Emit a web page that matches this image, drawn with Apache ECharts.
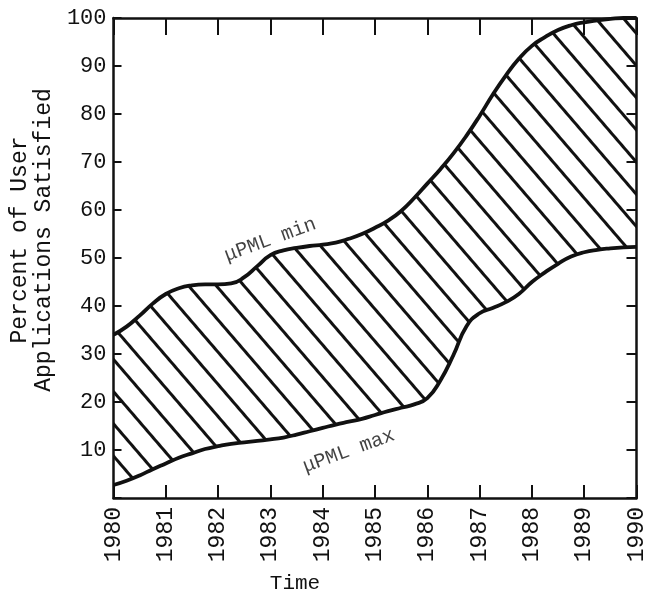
<!DOCTYPE html>
<html>
<head>
<meta charset="utf-8">
<title>Percent of User Applications Satisfied</title>
<script src="https://cdn.jsdelivr.net/npm/echarts@6/dist/echarts.min.js"></script>
<style>
  html, body { margin: 0; padding: 0; background: #fff; }
  #chart { width: 648px; height: 599px; }
</style>
</head>
<body>
<div id="chart"></div>
<script>
// Sample years shared by both curves
const years = [
  1980, 1980.25, 1980.5, 1980.75, 1981, 1981.25, 1981.5, 1981.75,
  1982, 1982.25, 1982.5, 1982.75, 1983, 1983.25, 1983.5, 1983.75,
  1984, 1984.25, 1984.5, 1984.75, 1985, 1985.25, 1985.5, 1985.75,
  1986, 1986.25, 1986.5, 1986.75, 1987, 1987.25, 1987.5, 1987.75,
  1988, 1988.25, 1988.5, 1988.75, 1989, 1989.25, 1989.5, 1989.75, 1990
];

// Upper boundary of the band ("μPML min"), percent
const pmlMin = [
  34.0, 35.7, 38.0, 40.5, 42.5, 43.7, 44.3, 44.5,
  44.5, 44.7, 46.0, 48.3, 50.6, 51.6, 52.1, 52.5,
  52.8, 53.2, 54.0, 55.0, 56.3, 57.8, 59.8, 62.5,
  65.5, 68.5, 71.8, 75.5, 79.6, 84.0, 88.0, 91.5,
  94.2, 96.0, 97.5, 98.5, 99.1, 99.5, 99.8, 100, 100
];

// Lower boundary of the band ("μPML max"), percent
const pmlMax = [
  2.7, 3.6, 4.7, 6.0, 7.2, 8.4, 9.3, 10.2,
  10.8, 11.3, 11.6, 11.9, 12.2, 12.6, 13.2, 13.9,
  14.6, 15.3, 15.9, 16.5, 17.3, 18.1, 18.8, 19.5,
  20.8, 24.5, 29.8, 35.8, 38.5, 39.6, 40.8, 42.5,
  45.0, 47.0, 48.8, 50.3, 51.2, 51.7, 52.0, 52.2, 52.3
];

// Tick labels
const yearLabels = ['1980', '1981', '1982', '1983', '1984', '1985', '1986', '1987', '1988', '1989', '1990'];
const percentLabels = ['', '10', '20', '30', '40', '50', '60', '70', '80', '90', '100'];

const FONT = '"Liberation Mono", "DejaVu Sans Mono", monospace';
const INK = '#111';

const chart = echarts.init(document.getElementById('chart'), null, { renderer: 'canvas' });

function frameAxis(extra) {
  return Object.assign({
    type: 'value',
    z: 5,
    splitLine: { show: false },
    axisLine: { show: true, onZero: false, lineStyle: { color: INK, width: 2.5 } },
  }, extra);
}

const option = {
  animation: false,
  backgroundColor: '#fff',
  grid: { left: 102, right: 11, top: 18, bottom: 94 },
  xAxis: [
    frameAxis({
      position: 'bottom',
      min: 1980, max: 1990, interval: 1,
      axisTick: { show: true, inside: true, length: 13, lineStyle: { color: INK, width: 2 } },
      axisLabel: {
        rotate: 90, margin: 9, fontSize: 23, fontFamily: FONT, color: INK,
        formatter: v => yearLabels[Math.round(v - 1980)]
      },
      name: 'Time',
      nameLocation: 'middle',
      nameGap: 75,
      nameTextStyle: { fontSize: 21, fontFamily: FONT, color: INK, padding: [0, 160, 0, 0] }
    }),
    frameAxis({
      position: 'top',
      min: 1980, max: 1990, interval: 1,
      axisTick: { show: true, inside: true, length: 17, lineStyle: { color: INK, width: 2 } },
      axisLabel: { show: false }
    })
  ],
  yAxis: [
    frameAxis({
      position: 'left',
      min: 0, max: 100, interval: 10,
      axisTick: { show: true, inside: true, length: 8, lineStyle: { color: INK, width: 2 } },
      axisLabel: {
        margin: 7, fontSize: 22, fontFamily: FONT, color: INK,
        formatter: v => percentLabels[Math.round(v / 10)]
      },
      name: 'Percent of User\nApplications Satisfied',
      nameLocation: 'middle',
      nameRotate: 90,
      nameGap: 41,
      nameTextStyle: {
        fontSize: 23, lineHeight: 24, fontFamily: FONT, color: INK,
        align: 'center', padding: [0, 0, 0, 36]
      }
    }),
    frameAxis({
      position: 'right',
      min: 0, max: 100, interval: 10,
      axisTick: { show: true, inside: true, length: 10, lineStyle: { color: INK, width: 2 } },
      axisLabel: { show: false }
    })
  ],
  series: [
    {
      name: 'μPML min',
      type: 'line',
      z: 2,
      smooth: 0.5,
      showSymbol: false,
      silent: true,
      data: years.map((y, i) => [y, pmlMin[i]]),
      lineStyle: { color: INK, width: 3.8 },
      itemStyle: {
        color: INK,
        // diagonal "\" hatching of the band
        decal: {
          symbol: 'rect',
          symbolSize: 1,
          color: INK,
          backgroundColor: 'rgba(0,0,0,0)',
          dashArrayX: [1, 0],
          dashArrayY: [3, 18],
          rotation: 0.86
        }
      },
      areaStyle: { color: '#fff', opacity: 1 }
    },
    {
      name: 'μPML max',
      type: 'line',
      z: 3,
      smooth: 0.5,
      showSymbol: false,
      silent: true,
      data: years.map((y, i) => [y, pmlMax[i]]),
      lineStyle: { color: INK, width: 3.8 },
      itemStyle: { color: INK },
      areaStyle: { color: '#fff', opacity: 1 }
    },
    {
      type: 'scatter',
      z: 6,
      silent: true,
      symbolSize: 1,
      itemStyle: { color: 'rgba(0,0,0,0)' },
      label: {
        show: true, position: 'inside', rotate: 20,
        fontFamily: FONT, fontSize: 20, color: INK
      },
      data: [
        { value: [1983.0, 53.8], label: { formatter: 'μPML min' } },
        { value: [1984.5, 9.8], label: { formatter: 'μPML max' } }
      ]
    }
  ]
};

chart.setOption(option);
</script>
</body>
</html>
